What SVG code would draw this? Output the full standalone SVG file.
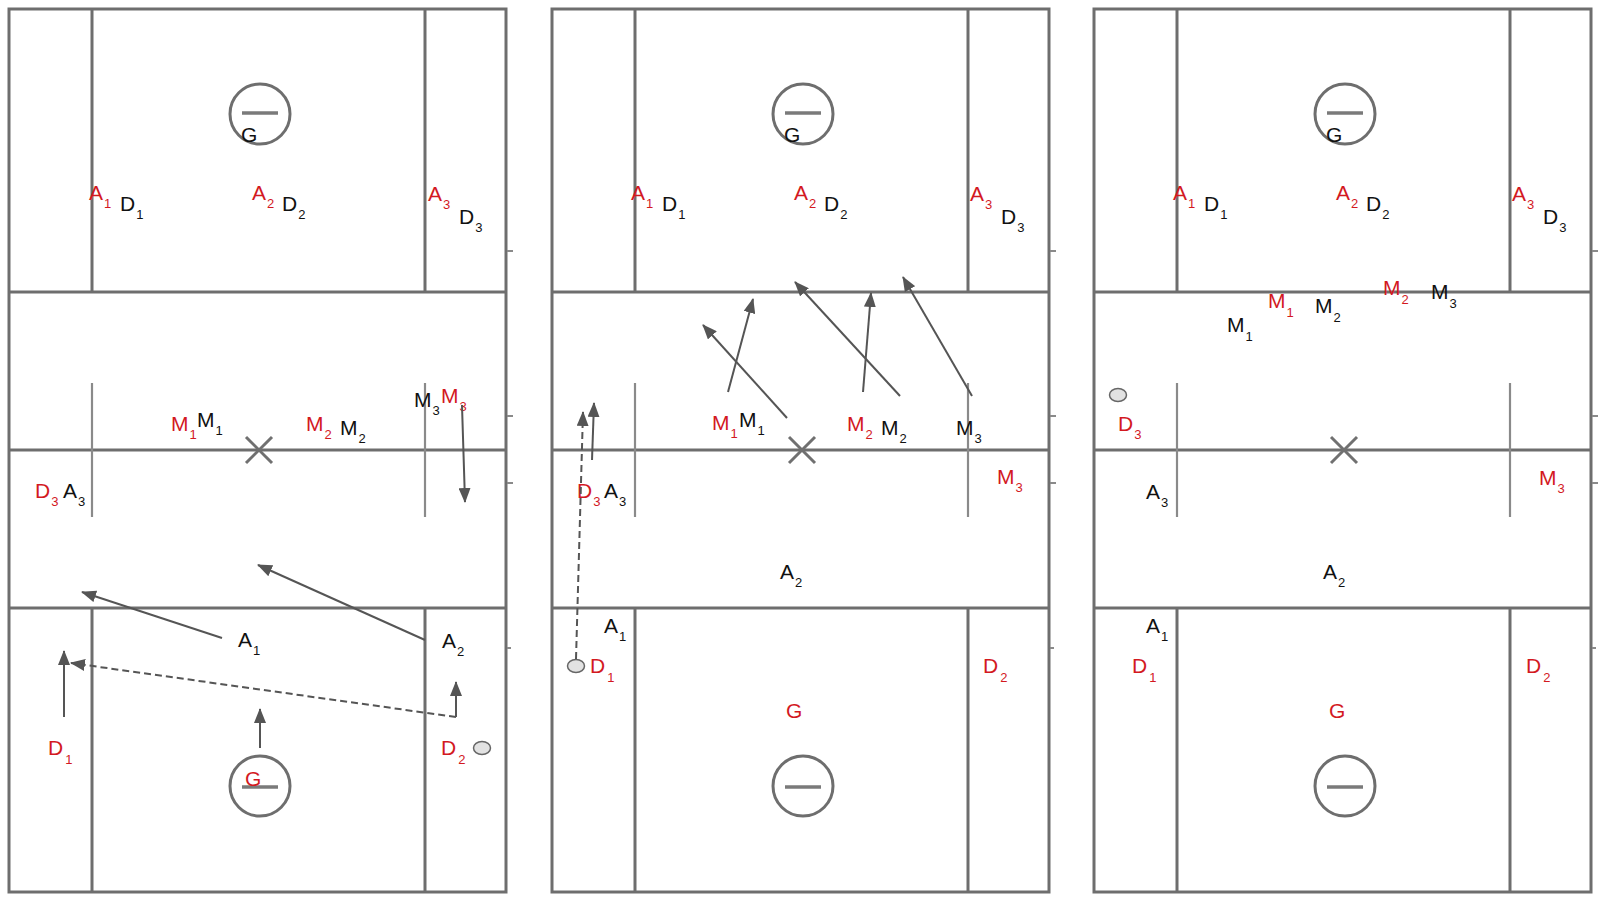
<svg xmlns="http://www.w3.org/2000/svg" xmlns:xlink="http://www.w3.org/1999/xlink" width="1600" height="900" viewBox="0 0 1600 900">
<style>
.fl{fill:none;stroke:#6e6e6e;stroke-width:3}
.wing{fill:none;stroke:#8a8a8a;stroke-width:2.2}
.tick{stroke:#8a8a8a;stroke-width:2}
.goal{fill:none;stroke:#6e6e6e;stroke-width:3}
.bar{stroke:#7a7a7a;stroke-width:3.5}
.cx{stroke:#707070;stroke-width:3}
.lbl{font-family:"Liberation Sans",Arial,sans-serif;font-size:21px}
.sub{font-size:13px}
.r{fill:#d3191f}
.k{fill:#111}
.arr{fill:none;stroke:#555;stroke-width:2;marker-end:url(#ah)}
.dash{fill:none;stroke:#555;stroke-width:2;stroke-dasharray:7 4;marker-end:url(#ah)}
.ball{fill:#e2e2e2;stroke:#666;stroke-width:1.5}
</style>
<defs>
<marker id="ah" markerUnits="userSpaceOnUse" markerWidth="15" markerHeight="12" refX="14" refY="6" orient="auto">
<path d="M0,0 L15,6 L0,12 z" fill="#555"/>
</marker>
<g id="field">
<rect class="fl" x="0" y="9" width="497" height="883"/>
<line class="fl" x1="83" y1="9" x2="83" y2="292"/>
<line class="fl" x1="416" y1="9" x2="416" y2="292"/>
<line class="fl" x1="83" y1="608" x2="83" y2="892"/>
<line class="fl" x1="416" y1="608" x2="416" y2="892"/>
<line class="fl" x1="0" y1="292" x2="497" y2="292"/>
<line class="fl" x1="0" y1="450" x2="497" y2="450"/>
<line class="fl" x1="0" y1="608" x2="497" y2="608"/>
<line class="wing" x1="83" y1="383" x2="83" y2="517"/>
<line class="wing" x1="416" y1="383" x2="416" y2="517"/>
<line class="cx" x1="237" y1="437" x2="263" y2="463"/>
<line class="cx" x1="263" y1="437" x2="237" y2="463"/>
<circle class="goal" cx="251" cy="114" r="30"/>
<line class="bar" x1="233" y1="113" x2="269" y2="113"/>
<circle class="goal" cx="251" cy="786" r="30"/>
<line class="bar" x1="233" y1="787" x2="269" y2="787"/>
<line class="tick" x1="498" y1="251" x2="504" y2="251"/>
<line class="tick" x1="498" y1="416" x2="504" y2="416"/>
<line class="tick" x1="498" y1="483" x2="504" y2="483"/>
<line class="tick" x1="498" y1="648" x2="502" y2="648"/>
</g>
</defs>
<rect x="0" y="0" width="1600" height="900" fill="#fff"/>
<g id="fields">
<use xlink:href="#field" href="#field" x="9" y="0"/>
<use xlink:href="#field" href="#field" x="552" y="0"/>
<use xlink:href="#field" href="#field" x="1094" y="0"/>
</g>

<g id="panel1">
<g id="p1-A1-r"><text class="lbl r" x="89" y="200">A<tspan class="sub" dx="1" dy="8">1</tspan></text></g>
<g id="p1-D1-k"><text class="lbl k" x="120" y="211">D<tspan class="sub" dx="1" dy="8">1</tspan></text></g>
<g id="p1-A2-r"><text class="lbl r" x="252" y="200">A<tspan class="sub" dx="1" dy="8">2</tspan></text></g>
<g id="p1-D2-k"><text class="lbl k" x="282" y="211">D<tspan class="sub" dx="1" dy="8">2</tspan></text></g>
<g id="p1-A3-r"><text class="lbl r" x="428" y="201">A<tspan class="sub" dx="1" dy="8">3</tspan></text></g>
<g id="p1-D3-k"><text class="lbl k" x="459" y="224">D<tspan class="sub" dx="1" dy="8">3</tspan></text></g>
<g id="p1-G-k"><text class="lbl k" x="241" y="142">G</text></g>
<g id="p1-M1-r"><text class="lbl r" x="171" y="431">M<tspan class="sub" dx="1" dy="8">1</tspan></text></g>
<g id="p1-M1-k"><text class="lbl k" x="197" y="427">M<tspan class="sub" dx="1" dy="8">1</tspan></text></g>
<g id="p1-M2-r"><text class="lbl r" x="306" y="431">M<tspan class="sub" dx="1" dy="8">2</tspan></text></g>
<g id="p1-M2-k"><text class="lbl k" x="340" y="435">M<tspan class="sub" dx="1" dy="8">2</tspan></text></g>
<g id="p1-M3-k"><text class="lbl k" x="414" y="407">M<tspan class="sub" dx="1" dy="8">3</tspan></text></g>
<g id="p1-M3-r"><text class="lbl r" x="441" y="403">M<tspan class="sub" dx="1" dy="8">3</tspan></text></g>
<g id="p1-D3-r"><text class="lbl r" x="35" y="498">D<tspan class="sub" dx="1" dy="8">3</tspan></text></g>
<g id="p1-A3-k"><text class="lbl k" x="63" y="498">A<tspan class="sub" dx="1" dy="8">3</tspan></text></g>
<g id="p1-A1-k"><text class="lbl k" x="238" y="647">A<tspan class="sub" dx="1" dy="8">1</tspan></text></g>
<g id="p1-A2-k"><text class="lbl k" x="442" y="648">A<tspan class="sub" dx="1" dy="8">2</tspan></text></g>
<g id="p1-D1-r"><text class="lbl r" x="48" y="755">D<tspan class="sub" dx="2" dy="9">1</tspan></text></g>
<g id="p1-D2-r"><text class="lbl r" x="441" y="755">D<tspan class="sub" dx="2" dy="9">2</tspan></text></g>
<g id="p1-G-r"><text class="lbl r" x="245" y="786">G</text></g>
<g id="p1-ball"><ellipse class="ball" cx="482" cy="748" rx="8.5" ry="6.5"/></g>
</g>

<g id="panel2">
<g id="p2-A1-r"><text class="lbl r" x="631" y="200">A<tspan class="sub" dx="1" dy="8">1</tspan></text></g>
<g id="p2-D1-k"><text class="lbl k" x="662" y="211">D<tspan class="sub" dx="1" dy="8">1</tspan></text></g>
<g id="p2-A2-r"><text class="lbl r" x="794" y="200">A<tspan class="sub" dx="1" dy="8">2</tspan></text></g>
<g id="p2-D2-k"><text class="lbl k" x="824" y="211">D<tspan class="sub" dx="1" dy="8">2</tspan></text></g>
<g id="p2-A3-r"><text class="lbl r" x="970" y="201">A<tspan class="sub" dx="1" dy="8">3</tspan></text></g>
<g id="p2-D3-k"><text class="lbl k" x="1001" y="224">D<tspan class="sub" dx="1" dy="8">3</tspan></text></g>
<g id="p2-G-k"><text class="lbl k" x="784" y="142">G</text></g>
<g id="p2-M1-r"><text class="lbl r" x="712" y="430">M<tspan class="sub" dx="1" dy="8">1</tspan></text></g>
<g id="p2-M1-k"><text class="lbl k" x="739" y="427">M<tspan class="sub" dx="1" dy="8">1</tspan></text></g>
<g id="p2-M2-r"><text class="lbl r" x="847" y="431">M<tspan class="sub" dx="1" dy="8">2</tspan></text></g>
<g id="p2-M2-k"><text class="lbl k" x="881" y="435">M<tspan class="sub" dx="1" dy="8">2</tspan></text></g>
<g id="p2-M3-k"><text class="lbl k" x="956" y="435">M<tspan class="sub" dx="1" dy="8">3</tspan></text></g>
<g id="p2-M3-r"><text class="lbl r" x="997" y="484">M<tspan class="sub" dx="1" dy="8">3</tspan></text></g>
<g id="p2-D3-r"><text class="lbl r" x="577" y="498">D<tspan class="sub" dx="1" dy="8">3</tspan></text></g>
<g id="p2-A3-k"><text class="lbl k" x="604" y="498">A<tspan class="sub" dx="1" dy="8">3</tspan></text></g>
<g id="p2-A2-k"><text class="lbl k" x="780" y="579">A<tspan class="sub" dx="1" dy="8">2</tspan></text></g>
<g id="p2-A1-k"><text class="lbl k" x="604" y="633">A<tspan class="sub" dx="1" dy="8">1</tspan></text></g>
<g id="p2-D1-r"><text class="lbl r" x="590" y="673">D<tspan class="sub" dx="2" dy="9">1</tspan></text></g>
<g id="p2-G-r"><text class="lbl r" x="786" y="718">G</text></g>
<g id="p2-D2-r"><text class="lbl r" x="983" y="673">D<tspan class="sub" dx="2" dy="9">2</tspan></text></g>
<g id="p2-ball"><ellipse class="ball" cx="576" cy="666" rx="8.5" ry="6.5"/></g>
</g>

<g id="panel3">
<g id="p3-A1-r"><text class="lbl r" x="1173" y="200">A<tspan class="sub" dx="1" dy="8">1</tspan></text></g>
<g id="p3-D1-k"><text class="lbl k" x="1204" y="211">D<tspan class="sub" dx="1" dy="8">1</tspan></text></g>
<g id="p3-A2-r"><text class="lbl r" x="1336" y="200">A<tspan class="sub" dx="1" dy="8">2</tspan></text></g>
<g id="p3-D2-k"><text class="lbl k" x="1366" y="211">D<tspan class="sub" dx="1" dy="8">2</tspan></text></g>
<g id="p3-A3-r"><text class="lbl r" x="1512" y="201">A<tspan class="sub" dx="1" dy="8">3</tspan></text></g>
<g id="p3-D3-k"><text class="lbl k" x="1543" y="224">D<tspan class="sub" dx="1" dy="8">3</tspan></text></g>
<g id="p3-G-k"><text class="lbl k" x="1326" y="142">G</text></g>
<g id="p3-M1-r"><text class="lbl r" x="1268" y="308">M<tspan class="sub" dx="1" dy="9">1</tspan></text></g>
<g id="p3-M2-k"><text class="lbl k" x="1315" y="313">M<tspan class="sub" dx="1" dy="9">2</tspan></text></g>
<g id="p3-M1-k"><text class="lbl k" x="1227" y="332">M<tspan class="sub" dx="1" dy="9">1</tspan></text></g>
<g id="p3-M2-r"><text class="lbl r" x="1383" y="295">M<tspan class="sub" dx="1" dy="9">2</tspan></text></g>
<g id="p3-M3-k"><text class="lbl k" x="1431" y="299">M<tspan class="sub" dx="1" dy="9">3</tspan></text></g>
<g id="p3-D3-r"><text class="lbl r" x="1118" y="431">D<tspan class="sub" dx="1" dy="8">3</tspan></text></g>
<g id="p3-A3-k"><text class="lbl k" x="1146" y="499">A<tspan class="sub" dx="1" dy="8">3</tspan></text></g>
<g id="p3-M3-r"><text class="lbl r" x="1539" y="485">M<tspan class="sub" dx="1" dy="8">3</tspan></text></g>
<g id="p3-A2-k"><text class="lbl k" x="1323" y="579">A<tspan class="sub" dx="1" dy="8">2</tspan></text></g>
<g id="p3-A1-k"><text class="lbl k" x="1146" y="633">A<tspan class="sub" dx="1" dy="8">1</tspan></text></g>
<g id="p3-D1-r"><text class="lbl r" x="1132" y="673">D<tspan class="sub" dx="2" dy="9">1</tspan></text></g>
<g id="p3-G-r"><text class="lbl r" x="1329" y="718">G</text></g>
<g id="p3-D2-r"><text class="lbl r" x="1526" y="673">D<tspan class="sub" dx="2" dy="9">2</tspan></text></g>
<g id="p3-ball"><ellipse class="ball" cx="1118" cy="395" rx="8.5" ry="6.5"/></g>
</g>

<g id="connectors">
<line class="arr" x1="462" y1="405" x2="465" y2="502"/>
<line class="arr" x1="222" y1="638" x2="82" y2="592"/>
<line class="arr" x1="425" y1="640" x2="258" y2="565"/>
<line class="arr" x1="64" y1="717" x2="64" y2="651"/>
<line class="dash" x1="456" y1="717" x2="71" y2="663"/>
<line class="arr" x1="456" y1="717" x2="456" y2="682"/>
<line class="arr" x1="260" y1="748" x2="260" y2="709"/>
<line class="arr" x1="728" y1="392" x2="753" y2="299"/>
<line class="arr" x1="787" y1="418" x2="703" y2="325"/>
<line class="arr" x1="863" y1="392" x2="871" y2="293"/>
<line class="arr" x1="900" y1="396" x2="795" y2="282"/>
<line class="arr" x1="972" y1="396" x2="903" y2="277"/>
<line class="dash" x1="576" y1="659" x2="583" y2="412"/>
<line class="arr" x1="592" y1="460" x2="594" y2="403"/>
</g>
</svg>
